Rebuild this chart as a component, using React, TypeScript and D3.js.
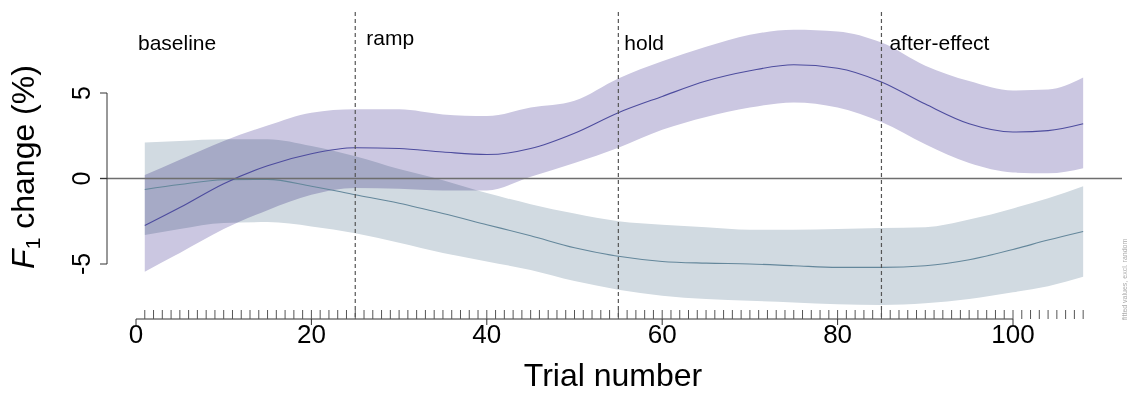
import React, {useEffect, useRef} from 'react';
import * as d3 from 'd3';

// values, every few trials
const trials = [1, 5, 10, 15, 20, 25, 30, 35, 40, 45, 50, 55, 60, 65, 70, 75, 80, 85, 90, 95, 100, 104, 108];

const purpleMean = [-2.75, -1.7, -0.3, 0.75, 1.45, 1.8, 1.75, 1.55, 1.4, 1.75, 2.65, 3.85, 4.8, 5.7, 6.3, 6.65, 6.45, 5.65, 4.35, 3.2, 2.72, 2.8, 3.2];
const purpleUpper = [0.2, 1.1, 2.2, 3.1, 3.85, 4.05, 4.05, 3.75, 3.65, 4.15, 4.55, 5.85, 6.85, 7.7, 8.4, 8.7, 8.6, 7.95, 6.6, 5.7, 5.15, 5.2, 5.9];
const purpleLower = [-5.45, -4.35, -2.95, -1.85, -0.95, -0.55, -0.6, -0.7, -0.7, 0.1, 0.9, 1.8, 2.85, 3.6, 4.15, 4.45, 4.15, 3.3, 2.0, 0.9, 0.35, 0.3, 0.6];

const greyMean = [-0.64, -0.35, -0.07, -0.05, -0.45, -0.95, -1.45, -2.05, -2.7, -3.35, -4.05, -4.55, -4.85, -4.95, -5.0, -5.1, -5.2, -5.2, -5.1, -4.75, -4.15, -3.6, -3.1];
const greyUpper = [2.1, 2.2, 2.3, 2.3, 1.9, 1.3, 0.55, -0.1, -0.85, -1.5, -2.05, -2.5, -2.7, -2.85, -3.0, -3.0, -2.95, -2.9, -2.85, -2.4, -1.75, -1.15, -0.45];
const greyLower = [-3.3, -2.95, -2.6, -2.55, -2.8, -3.2, -3.75, -4.35, -4.85, -5.35, -6.0, -6.5, -6.85, -7.05, -7.15, -7.25, -7.35, -7.4, -7.3, -7.05, -6.65, -6.3, -5.75];

const xTicks = [0, 20, 40, 60, 80, 100];
const yTicks = [-5, 0, 5];
const phaseStarts = [25, 55, 85];
const phaseLabels = ['baseline', 'ramp', 'hold', 'after-effect'];
const rugTrials = d3.range(1, 109);

const W = 1129;
const H = 394;
const font = '"Liberation Sans", Arial, sans-serif';

export default function App() {
  const ref = useRef<SVGSVGElement>(null);

  useEffect(() => {
    const svg = d3.select(ref.current);
    svg.selectAll('*').remove();

    const x = d3.scaleLinear().domain([0, 100]).range([136, 1013]);
    const y = d3.scaleLinear().domain([-5, 5]).range([264, 93]);

    const series = [
      {mean: greyMean, upper: greyUpper, lower: greyLower, fill: '#d1dae1', line: '#64879b'},
      {mean: purpleMean, upper: purpleUpper, lower: purpleLower, fill: '#cbc7e1', line: '#4d4c9e'}
    ];

    const band = d3
      .area<number>()
      .x((d, i) => x(trials[i]))
      .curve(d3.curveMonotoneX);
    const line = d3
      .line<number>()
      .x((d, i) => x(trials[i]))
      .y(d => y(d))
      .curve(d3.curveMonotoneX);

    series.forEach(s => {
      svg
        .append('path')
        .attr('d', band.y0((d, i) => y(s.lower[i])).y1(d => y(d))(s.upper))
        .attr('fill', s.fill)
        .style('mix-blend-mode', 'multiply');
    });

    series.forEach(s => {
      svg
        .append('path')
        .attr('d', line(s.mean))
        .attr('fill', 'none')
        .attr('stroke', s.line)
        .attr('stroke-width', 1.1);
    });

    // zero line
    svg
      .append('line')
      .attr('x1', 100)
      .attr('x2', 1122)
      .attr('y1', y(0))
      .attr('y2', y(0))
      .attr('stroke', '#6e6e6e')
      .attr('stroke-width', 1.4);

    // phase boundaries
    svg
      .selectAll('line.phase')
      .data(phaseStarts)
      .enter()
      .append('line')
      .attr('class', 'phase')
      .attr('x1', d => x(d))
      .attr('x2', d => x(d))
      .attr('y1', 12)
      .attr('y2', 319)
      .attr('stroke', '#555')
      .attr('stroke-width', 1.2)
      .attr('stroke-dasharray', '4,3');

    const labelX = [x(0) + 2, x(phaseStarts[0]) + 11, x(phaseStarts[1]) + 6, x(phaseStarts[2]) + 8];
    svg
      .selectAll('text.phase')
      .data(phaseLabels)
      .enter()
      .append('text')
      .attr('class', 'phase')
      .attr('x', (d, i) => labelX[i])
      .attr('y', (d, i) => (i === 1 ? 45 : 50))
      .attr('font-family', font)
      .attr('font-size', 21)
      .attr('fill', '#000')
      .text(d => d);

    // y axis
    svg
      .append('line')
      .attr('x1', 107)
      .attr('x2', 107)
      .attr('y1', y(-5))
      .attr('y2', y(5))
      .attr('stroke', '#333')
      .attr('stroke-width', 1);
    yTicks.forEach(t => {
      svg
        .append('line')
        .attr('x1', 100)
        .attr('x2', 107)
        .attr('y1', y(t))
        .attr('y2', y(t))
        .attr('stroke', '#333');
      svg
        .append('text')
        .attr('transform', `translate(90,${y(t)}) rotate(-90)`)
        .attr('text-anchor', 'middle')
        .attr('font-family', font)
        .attr('font-size', 25)
        .text(t);
    });

    const yTitle = svg
      .append('text')
      .attr('transform', 'translate(34,167) rotate(-90)')
      .attr('text-anchor', 'middle')
      .attr('font-family', font)
      .attr('font-size', 32);
    yTitle.append('tspan').attr('font-style', 'italic').text('F');
    yTitle.append('tspan').attr('font-size', 21).attr('dy', 6).text('1');
    yTitle.append('tspan').attr('dy', -6).text(' change (%)');

    // x axis
    svg
      .append('line')
      .attr('x1', x(0))
      .attr('x2', x(100))
      .attr('y1', 319)
      .attr('y2', 319)
      .attr('stroke', '#333');
    xTicks.forEach(t => {
      svg
        .append('line')
        .attr('x1', x(t))
        .attr('x2', x(t))
        .attr('y1', 319)
        .attr('y2', 325)
        .attr('stroke', '#333');
      svg
        .append('text')
        .attr('x', x(t))
        .attr('y', 343)
        .attr('text-anchor', 'middle')
        .attr('font-family', font)
        .attr('font-size', 26)
        .text(t);
    });

    // rug of trials
    svg
      .selectAll('line.rug')
      .data(rugTrials)
      .enter()
      .append('line')
      .attr('class', 'rug')
      .attr('x1', d => x(d))
      .attr('x2', d => x(d))
      .attr('y1', 310)
      .attr('y2', 319)
      .attr('stroke', '#555')
      .attr('stroke-width', 1);

    svg
      .append('text')
      .attr('x', 613)
      .attr('y', 386)
      .attr('text-anchor', 'middle')
      .attr('font-family', font)
      .attr('font-size', 32)
      .text('Trial number');

    // tiny side note
    svg
      .append('text')
      .attr('transform', 'translate(1127,320) rotate(-90)')
      .attr('font-family', font)
      .attr('font-size', 7)
      .attr('fill', '#aaa')
      .text('fitted values, excl. random');
  }, []);

  return <svg ref={ref} width={W} height={H} style={{position: 'absolute', left: 0, top: 0, background: '#fff'}} />;
}
